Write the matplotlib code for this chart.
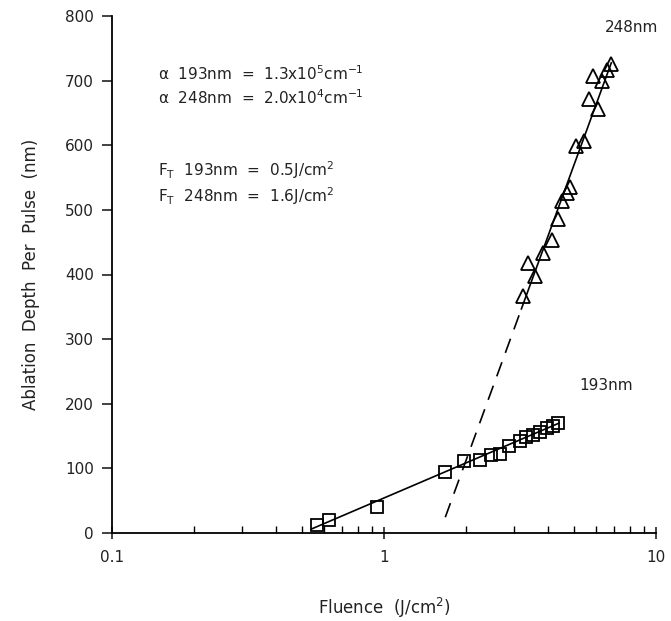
import numpy as np
import matplotlib
matplotlib.use("Agg")
import matplotlib.pyplot as plt
from matplotlib.ticker import LogLocator, NullFormatter, FixedLocator, FixedFormatter

# ---- data ----
fluence_193 = [0.568, 0.630, 0.944, 1.68, 1.97, 2.25, 2.48, 2.66, 2.88, 3.16,
               3.34, 3.53, 3.74, 3.96, 4.19, 4.37]
depth_193 = [12, 20, 40, 94, 111, 113, 120, 123, 134, 143, 148, 152, 157, 162, 166, 170]

fluence_248 = [3.23, 3.60, 3.39, 3.85, 4.13, 4.35, 4.50, 4.69, 4.82, 5.10,
               5.43, 5.69, 6.12, 5.87, 6.31, 6.58, 6.81]
depth_248 = [367, 398, 418, 434, 454, 486, 513, 526, 536, 599, 606, 671, 656,
             707, 699, 717, 725]

# fit parameters (threshold fluence, slope per decade)
thresh_193, slope_193 = 0.5, 180.0
thresh_248, slope_248 = 1.6, 1152.0
fit_193_range = (0.54, 4.4)
fit_248_dashed = (1.68, 3.2)
fit_248_solid = (3.2, 6.85)

x_ticks = [0.1, 1, 10]
x_tick_labels = ["0.1", "1", "10"]
y_ticks = [0, 100, 200, 300, 400, 500, 600, 700, 800]

plt.rcParams['font.family'] = ['DejaVu Sans']
plt.rcParams['mathtext.fontset'] = 'dejavusans'

fig = plt.figure(figsize=(6.71, 6.21), dpi=100)
ax = fig.add_axes([112/671, 1-533/621, (656-112)/671, (533-16)/621])

def fit(f, thr, s):
    return s * np.log10(np.asarray(f) / thr)

f1 = np.geomspace(*fit_193_range, 50)
ax.plot(f1, fit(f1, thresh_193, slope_193), color='black', lw=1.2)
f2 = np.geomspace(*fit_248_dashed, 50)
ax.plot(f2, fit(f2, thresh_248, slope_248), color='black', lw=1.2, dashes=(9, 6))
f3 = np.geomspace(*fit_248_solid, 50)
ax.plot(f3, fit(f3, thresh_248, slope_248), color='black', lw=1.2)

ax.plot(fluence_193, depth_193, linestyle='none', marker='s', markersize=9,
        markerfacecolor='none', markeredgecolor='black', markeredgewidth=1.3)
ax.plot(fluence_248, depth_248, linestyle='none', marker='^', markersize=10,
        markerfacecolor='none', markeredgecolor='black', markeredgewidth=1.3)

ax.set_xscale('log')
ax.set_xlim(0.1, 10)
ax.set_ylim(0, 800)
ax.xaxis.set_major_locator(FixedLocator(x_ticks))
ax.xaxis.set_major_formatter(FixedFormatter(x_tick_labels))
ax.xaxis.set_minor_locator(LogLocator(base=10, subs=np.arange(2, 10)))
ax.xaxis.set_minor_formatter(NullFormatter())
ax.set_yticks(y_ticks)

for s in ['top', 'right']:
    ax.spines[s].set_visible(False)
for s in ['left', 'bottom']:
    ax.spines[s].set_linewidth(1.3)

ax.tick_params(axis='x', which='major', direction='inout', length=9, width=1.2,
               labelsize=11, pad=8, colors='#222222')
ax.tick_params(axis='x', which='minor', direction='in', length=5, width=1.0)
ax.tick_params(axis='y', which='major', direction='out', length=7, width=1.2,
               labelsize=11, pad=6, colors='#222222')

ax.set_xlabel("Fluence  (J/cm$^2$)", fontsize=12, labelpad=22, color='#222222')
ax.set_ylabel("Ablation  Depth  Per  Pulse  (nm)", fontsize=12, labelpad=18,
              color='#222222')

def ftext(x, y, s, **kw):
    fig.text(x/671, 1-y/621, s, fontsize=11, color='#222222', va='center', **kw)

ftext(158, 74, r"α  193nm  =  1.3x10$^5$cm$^{-1}$")
ftext(158, 98, r"α  248nm  =  2.0x10$^4$cm$^{-1}$")
ftext(158, 170, r"F$_\mathrm{T}$  193nm  =  0.5J/cm$^2$")
ftext(158, 196, r"F$_\mathrm{T}$  248nm  =  1.6J/cm$^2$")
ftext(632, 28, "248nm", ha='center')
ftext(606, 385, "193nm", ha='center')

fig.savefig("out.png", dpi=100)
